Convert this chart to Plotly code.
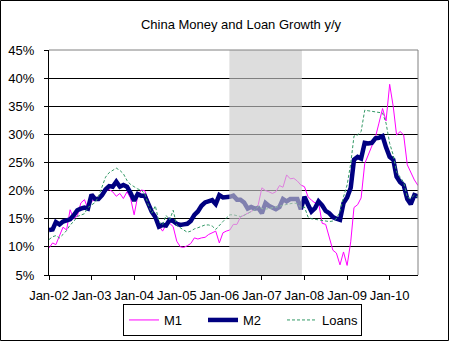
import pandas as pd
import plotly.graph_objects as go

# Monthly year-on-year growth rates (%), Jan 2002 - Sep 2010
months = pd.date_range("2002-01-01", "2010-09-01", freq="MS")

m1 = [
    9.8, 10.7, 10.4, 11.9, 13.5, 13.0, 16.6, 15.0, 15.5, 17.8, 18.4, 16.8,   # 2002
    18.1, 18.4, 19.0, 19.2, 19.9, 20.2, 19.8, 19.0, 19.5, 18.6, 19.8, 18.7,  # 2003
    15.7, 19.0, 20.1, 20.0, 18.4, 16.4, 15.0, 13.8, 12.8, 13.9, 14.2, 13.6,  # 2004
    11.0, 10.0, 9.9, 10.2, 10.6, 11.6, 11.4, 11.6, 11.7, 12.2, 12.5, 12.8,   # 2005
    10.7, 12.5, 12.8, 13.0, 14.0, 14.0, 15.3, 15.6, 16.0, 16.3, 16.8, 17.5,  # 2006
    20.5, 20.0, 19.8, 19.5, 19.8, 20.9, 20.6, 22.8, 22.1, 22.2, 21.7, 21.0,  # 2007
    20.7, 18.9, 18.3, 17.8, 17.9, 14.2, 14.0, 11.8, 9.4, 8.9, 6.8, 9.1,      # 2008
    6.7, 10.9, 17.0, 17.5, 18.7, 24.8, 26.4, 27.7, 29.5, 32.0, 34.6, 32.4,   # 2009
    38.9, 34.9, 29.9, 30.5, 29.9, 24.6, 23.2, 21.9, 20.9,                    # 2010
]

m2 = [
    13.0, 13.1, 14.4, 14.0, 14.5, 14.7, 14.9, 15.6, 16.5, 16.8, 17.0, 16.8,  # 2002
    19.3, 18.5, 18.5, 19.2, 20.2, 20.8, 20.7, 21.6, 20.7, 21.0, 20.7, 19.6,  # 2003
    18.2, 19.4, 19.1, 19.1, 17.5, 16.2, 15.3, 13.6, 13.9, 13.8, 14.8, 14.6,  # 2004
    14.1, 13.9, 14.0, 14.1, 14.6, 15.7, 16.3, 17.3, 17.9, 18.0, 18.3, 17.6,  # 2005
    19.2, 18.8, 18.8, 18.9, 19.1, 18.4, 18.4, 17.9, 16.8, 17.1, 16.8, 16.9,  # 2006
    16.0, 17.8, 17.3, 17.1, 16.7, 17.1, 18.5, 18.1, 18.5, 18.5, 18.5, 16.7,  # 2007
    18.9, 17.5, 16.3, 16.9, 18.1, 17.4, 16.4, 16.0, 15.3, 15.0, 14.8, 17.8,  # 2008
    18.8, 20.5, 25.5, 26.0, 25.7, 28.5, 28.4, 28.5, 29.3, 29.4, 29.7, 27.7,  # 2009
    26.0, 25.5, 22.5, 21.5, 21.0, 18.5, 17.6, 19.2, 19.0,                    # 2010
]

loans = [
    11.3, 11.8, 12.0, 11.6, 12.2, 12.9, 13.9, 14.5, 15.4, 15.7, 15.9, 17.0,  # 2002
    17.5, 17.9, 18.9, 20.5, 22.4, 23.2, 23.6, 24.0, 23.6, 23.0, 21.8, 21.1,  # 2003
    20.7, 20.3, 20.1, 19.5, 17.5, 16.0, 17.3, 14.5, 13.9, 15.6, 14.8, 16.5,  # 2004
    13.8, 13.4, 13.0, 12.6, 12.8, 13.2, 13.4, 13.6, 13.9, 13.9, 13.7, 13.1,  # 2005
    13.9, 14.5, 15.1, 15.7, 15.7, 15.5, 15.4, 15.6, 15.9, 16.3, 16.6, 17.2,  # 2006
    16.8, 16.7, 16.8, 16.9, 17.0, 17.2, 17.4, 17.5, 17.6, 17.8, 17.7, 17.0,  # 2007
    17.1, 15.3, 15.0, 14.9, 14.9, 14.7, 14.6, 14.5, 14.6, 15.0, 16.3, 18.9,  # 2008
    21.0, 24.8, 29.7, 29.9, 30.5, 34.3, 34.2, 34.1, 34.1, 34.0, 33.8, 32.0,  # 2009
    28.4, 26.3, 23.3, 22.4, 21.5, 18.8, 18.6, 19.2, 18.8,                    # 2010
]

y_ticks = [5, 10, 15, 20, 25, 30, 35, 40, 45]
y_tick_labels = [f"{v}%" for v in y_ticks]

# Shaded period
shade_start = "2006-03-28"
shade_end = "2007-12-10"

FONT = "Liberation Sans"
W, H = 452, 342
ML, MR, MT, MB = 49, 34, 50, 67
PW, PH = W - ML - MR, H - MT - MB


def px_to_paper_x(px):
    return (px - ML) / PW


def px_to_paper_y(py):
    return (H - MB - py) / PH


fig = go.Figure()
fig.add_trace(go.Scatter(x=months, y=m1, name="M1", mode="lines",
                         line=dict(color="#FF00FF", width=1)))
fig.add_trace(go.Scatter(x=months, y=m2, name="M2", mode="lines",
                         line=dict(color="#000080", width=4.5)))
fig.add_trace(go.Scatter(x=months, y=loans, name="Loans", mode="lines",
                         line=dict(color="#339966", width=1, dash="3px,2px")))

shapes = [
    # translucent grey band laid over the lines
    dict(type="rect", xref="x", yref="paper", x0=shade_start, x1=shade_end,
         y0=0, y1=1, fillcolor="rgb(202,202,202)", opacity=0.635,
         line=dict(width=0), layer="above"),
    # grey plot-area frame on top and right
    dict(type="line", xref="paper", yref="paper", x0=0, x1=1, y0=1, y1=1,
         line=dict(color="#808080", width=1), layer="above"),
    dict(type="line", xref="paper", yref="paper", x0=1, x1=1, y0=0, y1=1,
         line=dict(color="#808080", width=1), layer="above"),
    # outer chart border
    dict(type="rect", xref="paper", yref="paper",
         x0=px_to_paper_x(0.5), x1=px_to_paper_x(448.5),
         y0=px_to_paper_y(340.5), y1=px_to_paper_y(0.5),
         line=dict(color="black", width=1), fillcolor="rgba(0,0,0,0)",
         layer="above"),
]

fig.update_layout(
    width=W, height=H,
    margin=dict(l=ML, r=MR, t=MT, b=MB, pad=0, autoexpand=False),
    paper_bgcolor="white", plot_bgcolor="white",
    font=dict(family=FONT, size=13, color="black"),
    title=dict(text="China Money and Loan Growth y/y", x=241 / W, xref="container",
               xanchor="center", y=1 - 24 / H, yref="container", yanchor="middle",
               font=dict(family=FONT, size=13, color="black")),
    showlegend=True,
    legend=dict(orientation="h", x=px_to_paper_x(123), y=px_to_paper_y(304),
                xanchor="left", yanchor="top", bordercolor="black", borderwidth=1,
                bgcolor="white", entrywidth=34, entrywidthmode="pixels",
                font=dict(family=FONT, size=13, color="black")),
    shapes=shapes,
    xaxis=dict(type="date", range=["2002-01-01", "2010-09-01"],
               tick0="2002-01-01", dtick="M12", tickformat="%b-%y", tickangle=0,
               showline=True, linecolor="black", linewidth=1, automargin=False,
               ticks="outside", ticklen=4, tickcolor="black", showgrid=False,
               zeroline=False, ticklabelstandoff=4, tickfont=dict(size=13)),
    yaxis=dict(range=[5, 45], tickvals=y_ticks, ticktext=y_tick_labels,
               showline=True, linecolor="black", linewidth=1, automargin=False,
               ticks="outside", ticklen=4, tickcolor="black",
               showgrid=True, gridcolor="black", gridwidth=1,
               zeroline=False, ticklabelstandoff=7, tickfont=dict(size=13)),
)

fig.write_html("out.html")
